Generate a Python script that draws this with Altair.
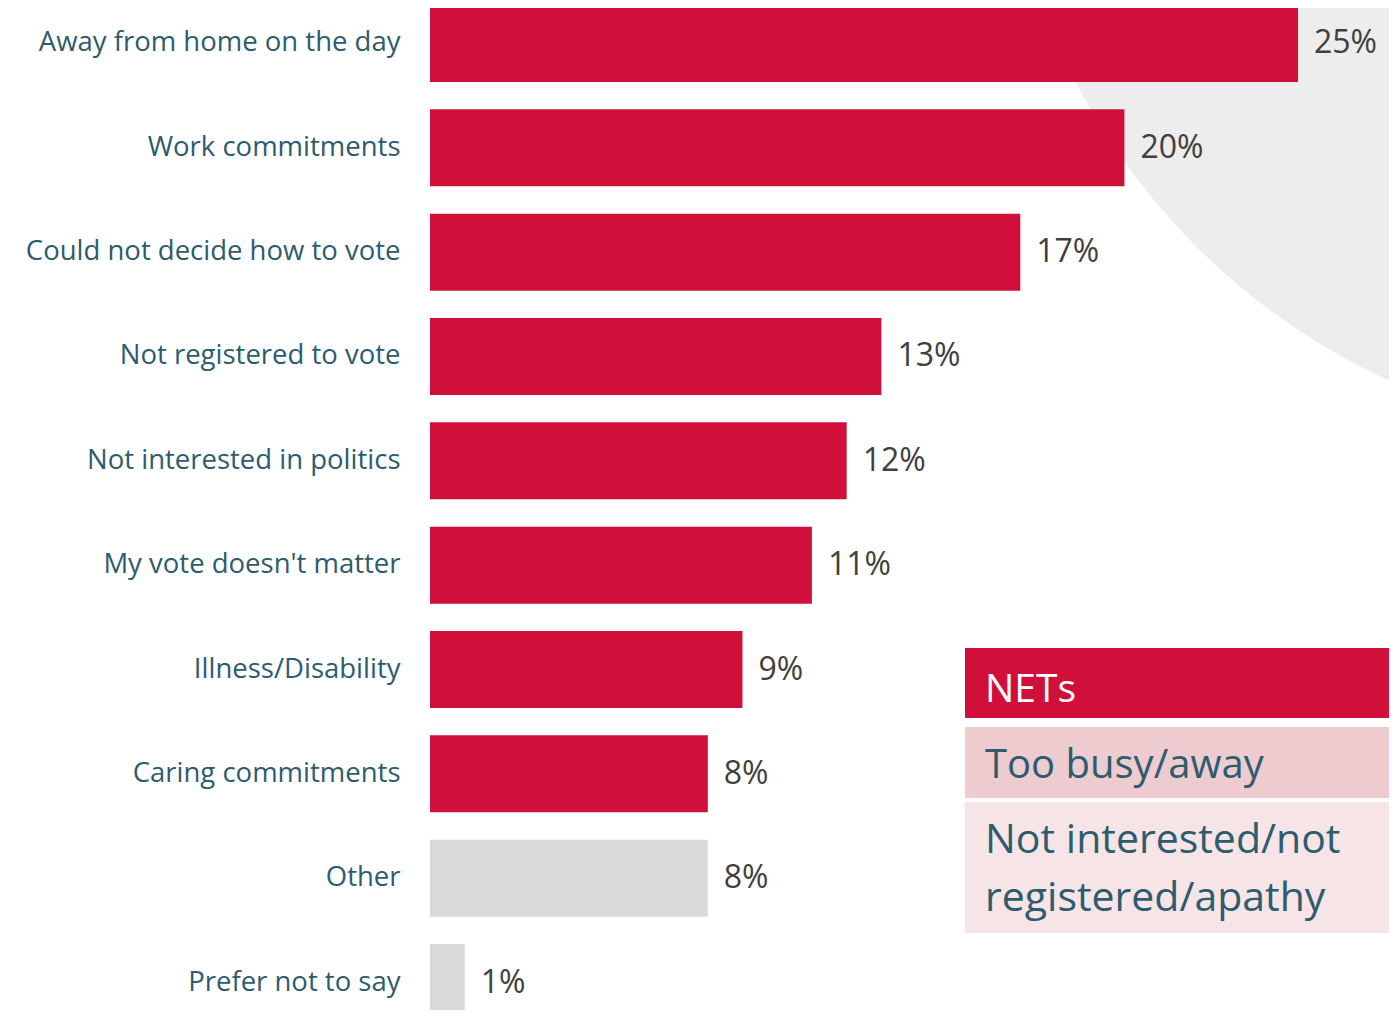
import altair as alt
import pandas as pd

categories = [
    "Away from home on the day",
    "Work commitments",
    "Could not decide how to vote",
    "Not registered to vote",
    "Not interested in politics",
    "My vote doesn't matter",
    "Illness/Disability",
    "Caring commitments",
    "Other",
    "Prefer not to say",
]
values = [25, 20, 17, 13, 12, 11, 9, 8, 8, 1]
groups = ["main"] * 8 + ["other"] * 2

net_labels = ["NETs", "Too busy/away", ["Not interested/not", "registered/apathy"]]

df = pd.DataFrame({"category": categories, "value": values, "group": groups})
df["label"] = [f"{v}%" for v in values]
one = pd.DataFrame({"k": [0]})

FONT = "Open Sans"
W, H = 959, 1002

y_enc = alt.Y(
    "category:N",
    sort=categories,
    scale=alt.Scale(range=[-16.7, 1026.7], paddingInner=0.262, paddingOuter=0.131),
    axis=alt.Axis(
        title=None, ticks=False, domain=False, labelPadding=30,
        labelFontSize=27.5, labelColor="#2D5C6E", labelFont=FONT, labelLimit=0,
    ),
)
x_enc = alt.X("value:Q", scale=alt.Scale(domain=[0, 27.62], nice=False), axis=None)

circle = alt.Chart(one).mark_arc(
    radius=665, theta=0, theta2=6.2832, color="#EDEDED"
).encode(x=alt.value(1236), y=alt.value(-232))

bars = alt.Chart(df).mark_bar(cornerRadius=0).encode(
    y=y_enc,
    x=x_enc,
    color=alt.Color(
        "group:N",
        scale=alt.Scale(domain=["main", "other"], range=["#D0103A", "#D9D9D9"]),
        legend=None,
    ),
)

texts = alt.Chart(df).mark_text(
    align="left", baseline="middle", dx=16, fontSize=32, font=FONT, color="#404040"
).encode(y=y_enc, x=x_enc, text="label:N")

def box(y1, y2, color):
    return alt.Chart(one).mark_rect(color=color).encode(
        x=alt.value(535), x2=alt.value(W), y=alt.value(y1), y2=alt.value(y2)
    )

def label(text, y, color, size):
    return alt.Chart(one).mark_text(
        text=text, align="left", baseline="alphabetic", fontSize=size,
        font=FONT, color=color, lineHeight=58,
    ).encode(x=alt.value(555), y=alt.value(y))

annot = [
    box(640, 710, "#D0103A"),
    box(719, 790, "#EDCBCE"),
    box(794, 925, "#F6E4E6"),
    label(net_labels[0], 694, "#FFFFFF", 39),
    label(net_labels[1], 770, "#2D5C6E", 40),
    label(net_labels[2], 845, "#2D5C6E", 41),
]

chart = alt.layer(circle, bars, texts, *annot).properties(
    width=W, height=H,
    padding={"left": 422, "top": 0, "right": 0, "bottom": 0},
    autosize="none",
).configure_view(stroke=None)

chart.save("out.html", embed_options={"renderer": "svg", "actions": False})
